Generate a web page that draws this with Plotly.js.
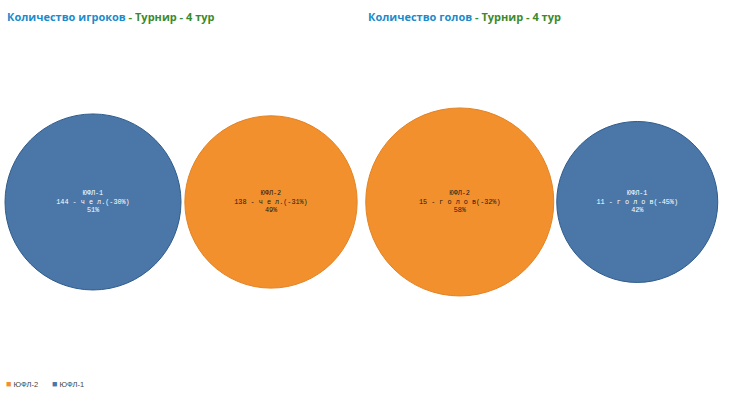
<!DOCTYPE html>
<html>
<head>
<meta charset="utf-8">
<script src="https://cdn.plot.ly/plotly-3.0.1.min.js"></script>
<style>
  html, body { margin: 0; padding: 0; background: #ffffff; }
  #chart { width: 730px; height: 396px; }
</style>
</head>
<body>
<div id="chart"></div>
<script>
// Players per league (round 4)
const playersCategories = ['ЮФЛ-1', 'ЮФЛ-2'];
const playersValues = [144, 138];
const playersChange = ['-30%', '-31%'];
const playersUnit = 'ч е л.';

// Goals per league (round 4)
const goalsCategories = ['ЮФЛ-2', 'ЮФЛ-1'];
const goalsValues = [15, 11];
const goalsChange = ['-32%', '-45%'];
const goalsUnit = 'г о л о в';

// Legend order
const legendCategories = ['ЮФЛ-2', 'ЮФЛ-1'];

// League styling
const leagueStyle = {
  'ЮФЛ-1': { fill: '#4a77a8', line: '#2f5c8c', text: '#ffffff' },
  'ЮФЛ-2': { fill: '#f2902d', line: '#e38324', text: '#1a1a1a' }
};

// Bubble area is proportional to the value; the biggest bubble of each chart gets this radius
const maxRadiusPlayers = 88;
const maxRadiusGoals = 94;

function bubbleTrace(cats, vals, changes, unit, maxR, xa, ya) {
  const total = vals.reduce((a, b) => a + b, 0);
  const vmax = Math.max(...vals);
  const labels = cats.map((c, i) =>
    c + '<br>' + vals[i] + ' - ' + unit + '(' + changes[i] + ')<br>' +
    Math.round(vals[i] / total * 100) + '%');
  return {
    type: 'scatter',
    mode: 'markers+text',
    x: cats.map((_, i) => i),
    y: cats.map(() => 0),
    xaxis: xa, yaxis: ya,
    text: labels,
    textposition: 'middle center',
    textfont: { family: 'Liberation Mono, monospace', size: 6.8, color: cats.map(c => leagueStyle[c].text) },
    marker: {
      size: vals,
      sizemode: 'area',
      // radius = sqrt(v / (2 * sizeref))
      sizeref: vmax / (2 * maxR * maxR),
      color: cats.map(c => leagueStyle[c].fill),
      opacity: 1,
      line: { width: 1, color: cats.map(c => leagueStyle[c].line) }
    },
    cliponaxis: false,
    hoverinfo: 'skip',
    showlegend: false
  };
}

const data = [
  bubbleTrace(playersCategories, playersValues, playersChange, playersUnit, maxRadiusPlayers, 'x', 'y'),
  bubbleTrace(goalsCategories, goalsValues, goalsChange, goalsUnit, maxRadiusGoals, 'x2', 'y2')
];

const hiddenAxis = { showgrid: false, zeroline: false, showticklabels: false, showline: false, ticks: '', fixedrange: true };

function titleAnnotation(x, first) {
  return {
    xref: 'paper', yref: 'paper', x: x, y: 1 - 16 / 396,
    xanchor: 'left', yanchor: 'middle', showarrow: false,
    font: { family: 'Open Sans, sans-serif', size: 11 },
    text: '<b><span style="color:#1b8bcb">' + first + '</span>' +
          '<span style="color:#3b8a2c"> - Турнир - 4 тур</span></b>'
  };
}

// Legend drawn as a row of coloured squares with labels at the bottom left
const legendAnnotations = legendCategories.map((c, i) => ({
  xref: 'paper', yref: 'paper', x: (4 + i * 46) / 730, y: 1 - 384 / 396,
  xanchor: 'left', yanchor: 'middle', showarrow: false,
  font: { family: 'Liberation Sans, sans-serif', size: 7.5, color: '#444444' },
  text: '<span style="color:' + leagueStyle[c].fill + ';font-size:9px">■</span> ' + c
}));

const layout = {
  width: 730, height: 396,
  margin: { l: 0, r: 0, t: 0, b: 0 },
  paper_bgcolor: '#ffffff', plot_bgcolor: '#ffffff',
  showlegend: false,
  xaxis: Object.assign({ domain: [4 / 730, 360 / 730], range: [-0.5, 1.5] }, hiddenAxis),
  yaxis: Object.assign({ domain: [0, 0.98], range: [-1, 1] }, hiddenAxis),
  xaxis2: Object.assign({ domain: [371 / 730, 726 / 730], range: [-0.5, 1.5], anchor: 'y2' }, hiddenAxis),
  yaxis2: Object.assign({ domain: [0, 0.98], range: [-1, 1], anchor: 'x2' }, hiddenAxis),
  annotations: [
    titleAnnotation(5 / 730, 'Количество игроков'),
    titleAnnotation(366 / 730, 'Количество голов')
  ].concat(legendAnnotations)
};

Plotly.newPlot('chart', data, layout, { displayModeBar: false, staticPlot: true });
</script>
</body>
</html>
